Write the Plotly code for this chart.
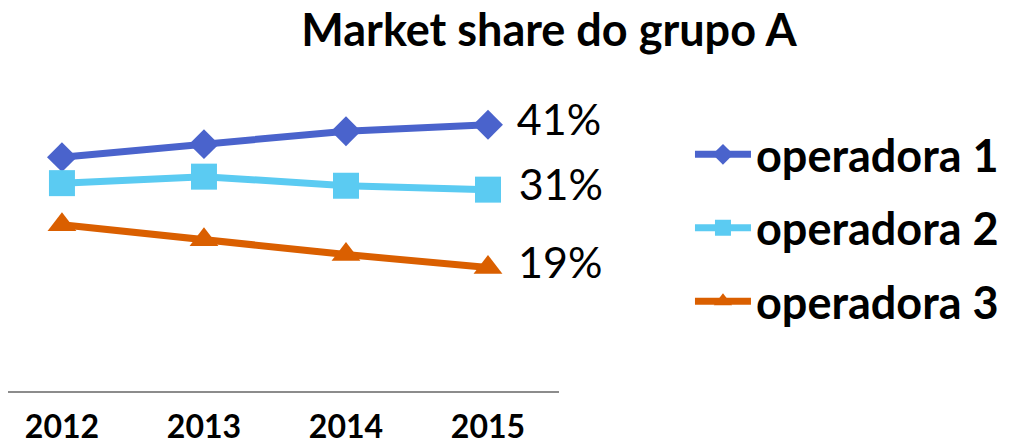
import plotly.graph_objects as go

years = ["2012", "2013", "2014", "2015"]
op1 = [36, 38, 40, 41]
op2 = [32, 33, 31.6, 31]
op3 = [25.6, 23.3, 21, 19]
names = ["operadora 1", "operadora 2", "operadora 3"]
end_labels = ["41%", "31%", "19%"]
colors = ["#4A63CC", "#5BCBF2", "#DA5F00"]
symbols = ["diamond", "square", "triangle-up"]
msizes = [23, 26, 25]

FONT = "Lato, 'Open Sans', sans-serif"

fig = go.Figure()
for vals, name, lab, col, sym, ms in zip([op1, op2, op3], names, end_labels, colors, symbols, msizes):
    fig.add_trace(go.Scatter(
        x=years, y=vals, name="<b>" + name + "</b>", legendgroup=name,
        mode="lines+markers+text",
        line=dict(color=col, width=7),
        marker=dict(symbol=sym, size=ms, color=col),
        text=[""] * (len(vals) - 1) + ["\u2009\u2009\u200a" + lab],
        textposition="middle right",
        textfont=dict(size=43, color="#000000", family=FONT),
        cliponaxis=False,
    ))

fig.update_layout(
    width=1012, height=435,
    margin=dict(l=0, r=461, t=92, b=52, autoexpand=False),
    paper_bgcolor="white", plot_bgcolor="white",
    title=dict(text="<b>Market share do grupo A</b>", x=0.5346, xanchor="center",
               y=0.949, yanchor="middle",
               font=dict(size=45, color="#000000", family=FONT)),
    xaxis=dict(type="category", range=[-0.380, 3.5], showgrid=False, zeroline=False,
               showline=True, linecolor="#8C8C8C", linewidth=1.5, ticks="",
               tickfont=dict(size=32, color="#000000", family=FONT),
               tickprefix="<b>", ticksuffix="</b>", ticklabelstandoff=7),
    yaxis=dict(range=[0, 44.8], visible=False),
    showlegend=True,
    legend=dict(x=1.2377, xanchor="left", y=0.56, yanchor="middle",
                font=dict(size=45, color="#000000", family=FONT),
                itemwidth=56, tracegroupgap=12, bgcolor="rgba(0,0,0,0)"),
)

fig.write_html("out.html")
